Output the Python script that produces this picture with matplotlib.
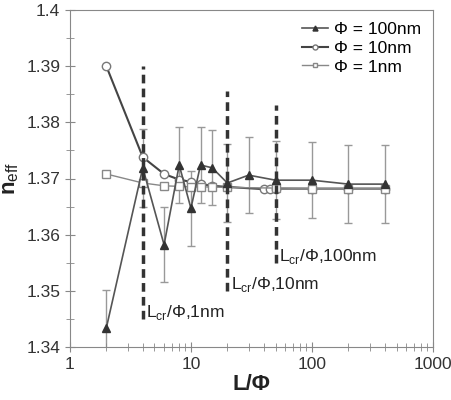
import numpy as np
import matplotlib
matplotlib.use("Agg")
import matplotlib.pyplot as plt
from matplotlib.ticker import MultipleLocator, FixedLocator, NullFormatter

plt.rcParams['font.family'] = ['Liberation Sans', 'DejaVu Sans']
plt.rcParams['mathtext.fontset'] = 'custom'
plt.rcParams['mathtext.rm'] = 'Liberation Sans'

# phi = 100nm (triangles, with error bars)
x_100 = [2, 4, 6, 8, 10, 12, 15, 20, 30, 50, 100, 200, 400]
n_100 = [1.3434, 1.3719, 1.3582, 1.3724, 1.3647, 1.3724, 1.3719, 1.3692,
         1.3706, 1.3697, 1.3697, 1.3690, 1.3690]
err_100 = [0.0068, 0.0070, 0.0067, 0.0068, 0.0067, 0.0068, 0.0067, 0.0069,
           0.0067, 0.0069, 0.0068, 0.0069, 0.0069]

# phi = 10nm (circles)
x_10 = [2, 4, 6, 8, 10, 12, 15, 20, 40, 45, 50, 100, 200, 400]
n_10 = [1.3900, 1.3738, 1.3708, 1.3698, 1.3694, 1.3690, 1.3687, 1.3685,
        1.3681, 1.3681, 1.3682, 1.3682, 1.3682, 1.3682]

# phi = 1nm (squares)
x_1 = [2, 4, 6, 8, 10, 12, 15, 20, 50, 100, 200, 400]
n_1 = [1.3708, 1.3692, 1.3687, 1.3686, 1.3685, 1.3685, 1.3685, 1.3684,
       1.3683, 1.3682, 1.3682, 1.3682]

# critical length markers
lcr_x = [4, 20, 50]
lcr_lo = [1.345, 1.350, 1.355]
lcr_hi = [1.390, 1.3855, 1.383]
lcr_labels = ['1nm', '10nm', '100nm']

fig = plt.figure(figsize=(4.51, 4.0), dpi=100)
ax = fig.add_axes([0.155, 0.1325, 0.805, 0.8425])

ax.errorbar(x_100, n_100, yerr=err_100, fmt='none', ecolor='#999999',
            elinewidth=1.0, capsize=3, capthick=1.0, zorder=1)
ax.plot(x_100, n_100, '-^', color='#555555', lw=1.2, ms=6,
        mfc='#333333', mec='#333333', label='Φ = 100nm', zorder=3)
ax.plot(x_10, n_10, '-o', color='#444444', lw=1.5, ms=6,
        mfc='white', mec='#777777', label='Φ = 10nm', zorder=2)
ax.plot(x_1, n_1, '-s', color='#888888', lw=1.0, ms=6,
        mfc='white', mec='#888888', label='Φ = 1nm', zorder=2)

for xv, lo, hi, lab in zip(lcr_x, lcr_lo, lcr_hi, lcr_labels):
    ax.vlines(xv, lo, hi, colors='#333333', linestyles=(0, (2.5, 1.5)),
              lw=2.5, zorder=4)
    ax.text(xv * 1.07, lo + 0.0012, r'L$_{\rm cr}$/Φ,' + lab, fontsize=12.5,
            color='#222222', ha='left', va='center')

ax.set_xscale('log')
ax.set_xlim(1, 1000)
ax.set_ylim(1.34, 1.40)
ax.xaxis.set_major_locator(FixedLocator([1, 10, 100, 1000]))
ax.set_xticklabels(['1', '10', '100', '1000'])
ax.xaxis.set_minor_locator(FixedLocator(
    [m * d for d in (1, 10, 100) for m in range(2, 10)]))
ax.xaxis.set_minor_formatter(NullFormatter())
ax.yaxis.set_minor_locator(MultipleLocator(0.005))
ax.set_yticks([1.34, 1.35, 1.36, 1.37, 1.38, 1.39, 1.40])
ax.set_yticklabels(['1.34', '1.35', '1.36', '1.37', '1.38', '1.39', '1.4'])

ax.tick_params(which='both', direction='inout', colors='#888888',
               labelcolor='#333333', labelsize=12.5)
ax.tick_params(which='major', length=7)
ax.tick_params(which='minor', length=6)
for s in ax.spines.values():
    s.set_color('#888888')

ax.set_xlabel('L/Φ', fontsize=16, fontweight='bold', color='#222222', labelpad=2)
ax.set_ylabel(r'n$_{\rm eff}$', fontsize=16, fontweight='bold', color='#222222',
              labelpad=4)

leg = ax.legend(loc='upper right', frameon=False, fontsize=12.5,
                handlelength=1.5, handletextpad=0.3, borderaxespad=0.3,
                labelspacing=0.2, markerscale=0.6)

fig.savefig('out.png', dpi=100)
